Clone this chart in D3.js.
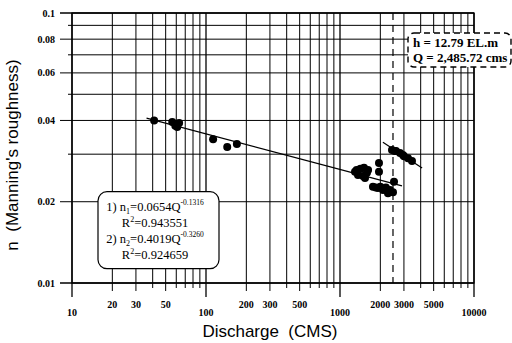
<!DOCTYPE html>
<html>
<head>
<meta charset="utf-8">
<script src="https://cdn.jsdelivr.net/npm/d3@7"></script>
<style>
  body { margin: 0; background: #fff; }
  svg { display: block; }
  .tick-lbl { font-family: "Liberation Serif", "Times New Roman", serif; font-weight: bold; font-size: 10px; }
  .title { font-family: "Liberation Sans", Arial, sans-serif; font-size: 17px; white-space: pre; }
  .eq { font-family: "Liberation Serif", "Times New Roman", serif; font-size: 12.5px; }
  .note { font-family: "Liberation Serif", "Times New Roman", serif; font-weight: bold; font-size: 13px; white-space: pre; }
</style>
</head>
<body>
<div id="chart"></div>
<script>
// observed points, group 1 (lower branch)
const q1 = [41, 56, 59, 61, 63, 113, 144, 170,
  1294, 1330, 1362, 1420, 1485, 1511, 1537, 1589, 1620, 1954, 1954,
  1762, 1850, 1922, 2000, 2094, 2200, 2281, 2360, 2486, 2530];
const n1 = [0.0400, 0.0395, 0.0382, 0.0378, 0.0391, 0.0341, 0.0319, 0.0327,
  0.0258, 0.0262, 0.0251, 0.0265, 0.0249, 0.0267, 0.0245, 0.0256, 0.0262, 0.0278, 0.0258,
  0.0227, 0.0226, 0.0225, 0.0227, 0.0221, 0.0226, 0.0215, 0.0221, 0.0217, 0.0237];
// observed points, group 2 (upper branch)
const q2 = [2443, 2560, 2618, 2805, 2950, 3005, 3217, 3445];
const n2 = [0.0311, 0.0308, 0.0308, 0.0303, 0.0298, 0.0295, 0.0290, 0.0283];

// fitted power laws n = a * Q^b
const fitA = [0.0654, 0.4019];
const fitB = [-0.1316, -0.3260];
const fitFrom = [36, 2090];
const fitTo = [2900, 4100];
const fitR2 = ['0.943551', '0.924659'];

const xTickLabels = [10, 20, 30, 50, 100, 200, 300, 500, 1000, 2000, 3000, 5000, 10000];
const yTickLabels = [0.1, 0.08, 0.06, 0.04, 0.02, 0.01];
const yLabelText = ['0.1', '0.08', '0.06', '0.04', '0.02', '0.01'];
const qDesign = 2485.72;
const hDesign = '12.79';

const W = 512, H = 343;
const margin = { top: 13, right: 38, bottom: 60, left: 72 };
const width = W - margin.left - margin.right;
const height = H - margin.top - margin.bottom;

const svg = d3.select('#chart').append('svg')
  .attr('width', W)
  .attr('height', H);

const x = d3.scaleLog().domain([10, 10000]).range([0, width]);
const y = d3.scaleLog().domain([0.01, 0.1]).range([height, 0]);

const g = svg.append('g')
  .attr('transform', `translate(${margin.left},${margin.top})`);

// grid
const isMajorX = (d) => Math.abs(Math.log10(d) - Math.round(Math.log10(d))) < 1e-9;
g.append('g')
  .attr('class', 'grid-x')
  .selectAll('line')
  .data(x.ticks())
  .enter().append('line')
  .attr('x1', (d) => x(d)).attr('x2', (d) => x(d))
  .attr('y1', 0)
  .attr('y2', (d) => height + (isMajorX(d) ? 14 : (xTickLabels.includes(d) ? 8 : 5)))
  .attr('stroke', '#000')
  .attr('stroke-width', (d) => isMajorX(d) ? 1.3 : 1);

g.append('g')
  .attr('class', 'grid-y')
  .selectAll('line')
  .data(y.ticks())
  .enter().append('line')
  .attr('x1', (d) => yTickLabels.includes(d) ? -12 : -4)
  .attr('x2', width)
  .attr('y1', (d) => y(d)).attr('y2', (d) => y(d))
  .attr('stroke', '#000')
  .attr('stroke-width', (d) => (d === 0.01 || d === 0.1) ? 1.3 : 1);

g.append('rect')
  .attr('width', width).attr('height', height)
  .attr('fill', 'none').attr('stroke', '#000').attr('stroke-width', 1.3);

// tick labels
g.append('g')
  .selectAll('text')
  .data(xTickLabels)
  .enter().append('text')
  .attr('class', 'tick-lbl')
  .attr('x', (d) => x(d))
  .attr('y', (d) => height + (isMajorX(d) ? 33 : 25))
  .attr('text-anchor', 'middle')
  .text((d) => d);

g.append('g')
  .selectAll('text')
  .data(yTickLabels)
  .enter().append('text')
  .attr('class', 'tick-lbl')
  .attr('x', -17)
  .attr('y', (d) => y(d) + 3.5)
  .attr('text-anchor', 'end')
  .text((d, i) => yLabelText[i]);

// design discharge
g.append('line')
  .attr('x1', x(qDesign)).attr('x2', x(qDesign))
  .attr('y1', 0).attr('y2', height)
  .attr('stroke', '#000').attr('stroke-width', 1.2)
  .attr('stroke-dasharray', '7,5');

// fitted lines
const line = d3.line().x((d) => x(d[0])).y((d) => y(d[1]));
fitA.forEach((a, i) => {
  const pts = [fitFrom[i], fitTo[i]].map((q) => [q, a * Math.pow(q, fitB[i])]);
  g.append('path')
    .attr('d', line(pts))
    .attr('fill', 'none')
    .attr('stroke', '#000')
    .attr('stroke-width', 1.2);
});

// points
const pts1 = q1.map((q, i) => [q, n1[i]]);
const pts2 = q2.map((q, i) => [q, n2[i]]);
g.append('g').selectAll('circle')
  .data(pts1.concat(pts2))
  .enter().append('circle')
  .attr('cx', (d) => x(d[0]))
  .attr('cy', (d) => y(d[1]))
  .attr('r', 4)
  .attr('fill', '#000');

// equation box
const eq = g.append('g').attr('transform', `translate(${x(10) + 26},${y(0.02) - 10})`);
eq.append('rect')
  .attr('width', 121).attr('height', 77).attr('rx', 9)
  .attr('fill', '#fff').attr('stroke', '#000').attr('stroke-width', 1.2);
[0, 1].forEach((i) => {
  const t1 = eq.append('text').attr('class', 'eq')
    .attr('x', 57).attr('y', 19 + i * 32).attr('text-anchor', 'middle');
  t1.append('tspan').text(`${i + 1}) n`);
  t1.append('tspan').attr('font-size', '8px').attr('dy', 3).text(i + 1);
  t1.append('tspan').attr('dy', -3).text(`=${fitA[i].toFixed(4)}Q`);
  t1.append('tspan').attr('font-size', '7.5px').attr('dy', -6).text(fitB[i].toFixed(4));
  const t2 = eq.append('text').attr('class', 'eq')
    .attr('x', 57).attr('y', 35 + i * 32).attr('text-anchor', 'middle');
  t2.append('tspan').text('R');
  t2.append('tspan').attr('font-size', '8px').attr('dy', -5).text('2');
  t2.append('tspan').attr('dy', 5).text('=' + fitR2[i]);
});

// design note box
const nb = svg.append('g').attr('transform', 'translate(408,33)');
nb.append('rect')
  .attr('width', 103).attr('height', 34).attr('rx', 6)
  .attr('fill', '#fff').attr('stroke', '#000').attr('stroke-width', 1.4)
  .attr('stroke-dasharray', '6,4');
nb.append('text').attr('class', 'note').attr('x', 5).attr('y', 14)
  .text(`h = ${hDesign} EL.m`);
nb.append('text').attr('class', 'note').attr('x', 5).attr('y', 29)
  .text(`Q = ${d3.format(',.2f')(qDesign)} cms`);

// axis titles
svg.append('text').attr('class', 'title')
  .attr('x', margin.left + x(300)).attr('y', 337)
  .attr('text-anchor', 'middle')
  .text('Discharge  (CMS)');
svg.append('text').attr('class', 'title')
  .attr('transform', 'translate(18,155) rotate(-90)')
  .attr('text-anchor', 'middle')
  .text("n  (Manning's roughness)");
</script>
</body>
</html>
